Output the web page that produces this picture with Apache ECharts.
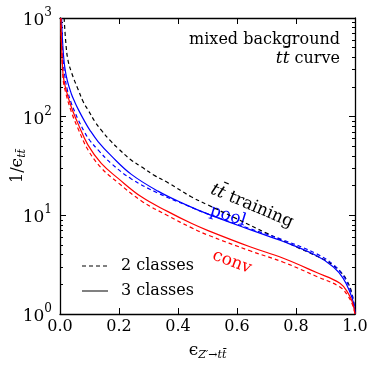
<!DOCTYPE html>
<html>
<head>
<meta charset="utf-8">
<script src="https://cdn.jsdelivr.net/npm/echarts@6/dist/echarts.min.js"></script>
<style>
  html, body { margin: 0; padding: 0; background: #fff; }
  #chart { width: 374px; height: 374px; }
</style>
</head>
<body>
<div id="chart"></div>
<script>
// efficiency values
const trainX = [0.014, 0.02, 0.027, 0.04, 0.061, 0.08, 0.095, 0.12, 0.14, 0.17, 0.197, 0.24, 0.276, 0.32, 0.366, 0.445, 0.5, 0.6, 0.7, 0.814, 0.9, 0.927, 0.95, 0.972, 0.99, 1.0]
const trainY = [1000, 550, 374, 275, 190, 139, 117, 87.5, 73, 57.4, 47.7, 36.6, 31, 25.4, 21.4, 15.4, 12.8, 9.2, 6.6, 4.6, 3.5, 3.1, 2.7, 2.2, 1.6, 1]

const poolX = [0.005, 0.01, 0.016, 0.025, 0.038, 0.05, 0.061, 0.084, 0.1, 0.129, 0.174, 0.242, 0.332, 0.422, 0.5, 0.644, 0.757, 0.87, 0.927, 0.96, 0.983, 0.995, 1.0]
const pool3Y = [1000, 500, 320, 230, 172, 141, 120, 89, 74, 56, 40, 26, 17.6, 13, 10.35, 7.16, 5.43, 3.9, 3.0, 2.3, 1.66, 1.29, 1]
const pool2Y = [1000, 400, 263, 186, 138, 112, 94, 69, 58, 46, 33.5, 23.4, 16.8, 12.9, 10.35, 7.33, 5.62, 4.07, 3.16, 2.45, 1.78, 1.35, 1]

const convX = [0.003, 0.01, 0.02, 0.038, 0.061, 0.095, 0.14, 0.197, 0.276, 0.366, 0.445, 0.502, 0.644, 0.757, 0.87, 0.949, 0.977, 0.992, 1.0]
const conv3Y = [1000, 275, 190, 126, 85, 51.5, 33.6, 23.7, 15.4, 10.9, 8.3, 7.0, 4.8, 3.67, 2.63, 2.05, 1.62, 1.3, 1]
const conv2Y = [1000, 251, 172, 113, 76, 46, 30.2, 21.4, 14, 9.9, 7.5, 6.3, 4.37, 3.35, 2.4, 1.88, 1.51, 1.23, 1]

const yMinorTicks = [2, 3, 4, 5, 6, 7, 8, 9, 20, 30, 40, 50, 60, 70, 80, 90, 200, 300, 400, 500, 600, 700, 800, 900]

const serif = 'DejaVu Serif'

function pairs(xs, ys) {
  return xs.map((x, i) => [x, ys[i]])
}

function logLabel(v) {
  const e = Math.round(Math.log10(v))
  return '{b|10}{s|' + e + '}'
}

const chart = echarts.init(document.getElementById('chart'))

const frameLine = { show: true, lineStyle: { color: '#000', width: 1.3 } }

function yAxisBase(extra) {
  return Object.assign({
    type: 'log',
    logBase: 10,
    min: 1,
    max: 1000,
    axisLine: frameLine,
    splitLine: { show: false },
    axisLabel: { show: false },
    axisTick: { show: true, inside: true, length: 6, lineStyle: { color: '#000', width: 1 } }
  }, extra)
}

function lineSeries(name, data, color, dashed) {
  return {
    name: name,
    type: 'line',
    data: data,
    showSymbol: false,
    symbol: 'none',
    smooth: 0.4,
    silent: true,
    lineStyle: { color: color, width: 1.2, type: dashed ? [4, 3] : 'solid' },
    itemStyle: { color: color }
  }
}

const richItalic = { i: { fontStyle: 'italic', fontFamily: serif, fontSize: 17 } }

const option = {
  animation: false,
  backgroundColor: '#fff',
  grid: { left: 60, right: 19, top: 18, bottom: 60, outerBoundsMode: 'none' },
  xAxis: [
    {
      type: 'value',
      min: 0,
      max: 1,
      interval: 0.2,
      axisLine: frameLine,
      splitLine: { show: false },
      axisTick: { inside: true, length: 6, lineStyle: { color: '#000' } },
      axisLabel: {
        fontFamily: serif,
        fontSize: 16,
        color: '#000',
        margin: 5,
        formatter: v => v.toFixed(1)
      },
      name: '{e|ϵ}{sub|Z′→tt̄}',
      nameLocation: 'middle',
      nameGap: 27,
      nameTextStyle: {
        rich: {
          e: { fontFamily: serif, fontSize: 17, color: '#000' },
          sub: { fontFamily: serif, fontSize: 11, fontStyle: 'italic', color: '#000', padding: [9, 0, 0, 0] }
        }
      }
    },
    {
      type: 'value',
      position: 'top',
      min: 0,
      max: 1,
      interval: 0.2,
      axisLine: frameLine,
      splitLine: { show: false },
      axisLabel: { show: false },
      axisTick: { inside: true, length: 6, lineStyle: { color: '#000' } }
    }
  ],
  yAxis: [
    yAxisBase({
      position: 'left',
      axisLabel: {
        show: true,
        margin: 8,
        formatter: logLabel,
        rich: {
          b: { fontFamily: serif, fontSize: 17, color: '#000', lineHeight: 22, verticalAlign: 'bottom' },
          s: { fontFamily: serif, fontSize: 12, color: '#000', lineHeight: 22, verticalAlign: 'top', padding: [0, 0, 8, 0] }
        }
      },
      name: '1/{e|ϵ}{sub|tt̄}',
      nameLocation: 'middle',
      nameRotate: 90,
      nameGap: 32,
      nameMoveOverlap: false,
      nameTextStyle: {
        fontFamily: serif,
        fontSize: 16,
        color: '#000',
        rich: {
          e: { fontFamily: serif, fontSize: 17, color: '#000' },
          sub: { fontFamily: serif, fontSize: 11, fontStyle: 'italic', color: '#000', padding: [9, 0, 0, 0] }
        }
      }
    }),
    yAxisBase({
      position: 'left',
      axisLine: { show: false },
      axisTick: { show: true, inside: true, length: 3, customValues: yMinorTicks, lineStyle: { color: '#000' } }
    }),
    yAxisBase({ position: 'right' }),
    yAxisBase({
      position: 'right',
      axisLine: { show: false },
      axisTick: { show: true, inside: true, length: 3, customValues: yMinorTicks, lineStyle: { color: '#000' } }
    })
  ],
  legend: {
    orient: 'vertical',
    left: 76,
    top: 253,
    itemWidth: 26,
    itemHeight: 10,
    itemGap: 9,
    selectedMode: false,
    itemStyle: { opacity: 0 },
    textStyle: { fontFamily: serif, fontSize: 16, color: '#000', padding: [0, 0, 0, 8] },
    data: ['2 classes', '3 classes']
  },
  series: [
    lineSeries('2 classes', [], '#808080', true),
    lineSeries('3 classes', [], '#808080', false),
    lineSeries('training', pairs(trainX, trainY), '#000', true),
    lineSeries('pool 2', pairs(poolX, pool2Y), '#0000ff', true),
    lineSeries('pool 3', pairs(poolX, pool3Y), '#0000ff', false),
    lineSeries('conv 2', pairs(convX, conv2Y), '#ff0000', true),
    lineSeries('conv 3', pairs(convX, conv3Y), '#ff0000', false)
  ],
  graphic: [
    {
      type: 'text', right: 34, top: 32,
      style: { text: 'mixed background', font: '16px "DejaVu Serif"', fill: '#000' }
    },
    {
      type: 'text', right: 34, top: 50,
      style: {
        text: '{i|tt̄} curve',
        font: '16px "DejaVu Serif"', fill: '#000',
        rich: { i: { fontStyle: 'italic', fontFamily: serif, fontSize: 17 } }
      }
    },
    {
      type: 'text', x: 252, y: 206, rotation: -0.4,
      style: {
        text: '{i|tt̄} training', align: 'center', verticalAlign: 'middle',
        font: '17px "DejaVu Serif"', fill: '#000',
        rich: richItalic
      }
    },
    {
      type: 'text', x: 228, y: 216, rotation: -0.3,
      style: { text: 'pool', align: 'center', verticalAlign: 'middle', font: '17px "DejaVu Serif"', fill: '#0000ff' }
    },
    {
      type: 'text', x: 232, y: 262, rotation: -0.36,
      style: { text: 'conv', align: 'center', verticalAlign: 'middle', font: '17px "DejaVu Serif"', fill: '#ff0000' }
    }
  ]
}

chart.setOption(option)
</script>
</body>
</html>
